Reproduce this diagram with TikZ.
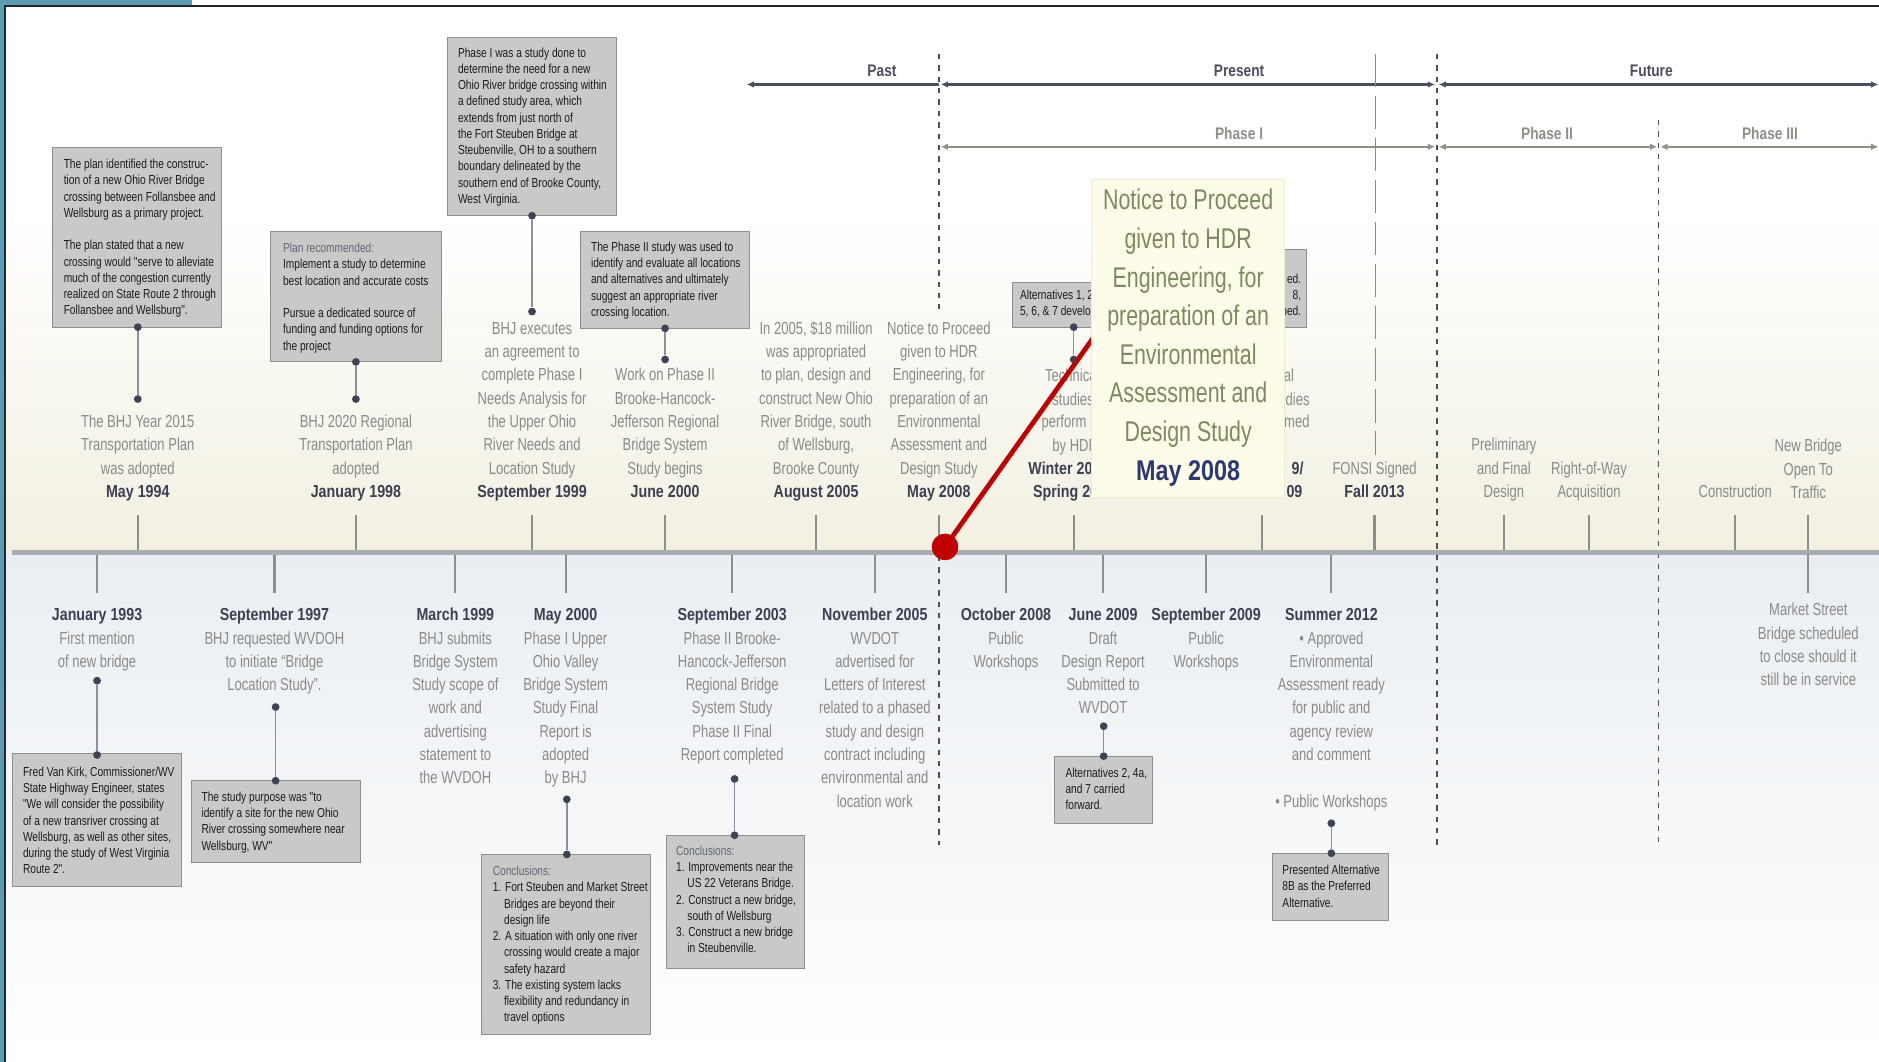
\documentclass[tikz,border=0pt]{standalone}
\usepackage{fontspec}
\setmainfont{Liberation Sans}[FakeStretch=0.75,BoldFeatures={FakeStretch=0.82}]
\newfontfamily\smallfam{Liberation Sans}[FakeStretch=0.78]
\usetikzlibrary{arrows.meta,fit}
\definecolor{frameteal}{HTML}{5B9CB2}
\definecolor{txtgray}{HTML}{8A8A8A}
\definecolor{datec}{HTML}{3C4052}
\definecolor{boxfill}{HTML}{C9C9C8}
\definecolor{boxborder}{HTML}{8F8F8F}
\definecolor{boxtxt}{HTML}{1C1C1C}
\definecolor{concl}{HTML}{5E6679}
\definecolor{dotc}{HTML}{3E4458}
\definecolor{connc}{HTML}{8C909A}
\definecolor{axisc}{HTML}{A8ACB4}
\definecolor{tickc}{HTML}{8C9089}
\definecolor{dashc}{HTML}{4F4F4F}
\definecolor{ldashc}{HTML}{8A8A8A}
\definecolor{hdrc}{HTML}{4A4F61}
\definecolor{phasec}{HTML}{8D9187}
\definecolor{beige}{HTML}{F2F0E1}
\definecolor{lblue}{HTML}{EAEEF2}
\definecolor{callfill}{HTML}{FDFCE9}
\definecolor{callborder}{HTML}{EEECD2}
\definecolor{callgreen}{HTML}{7B8B60}
\definecolor{callnavy}{HTML}{2D3A72}
\definecolor{redc}{HTML}{C00000}
\newcommand\mainsz{\fontsize{14.5}{19.45}\selectfont}
\newcommand\smallsz{\smallfam\fontsize{10.9}{13.55}\selectfont}
\newcommand\bigsz{\fontsize{23.8}{32.2}\selectfont}
\newcommand\lblsz{\fontsize{14}{16}\selectfont}
\newcommand\dt[1]{\textbf{\color{datec}#1}}
\newcommand\ind{\phantom{1.\ }}
\newcommand\topgrp[3]{\node[maintxt] (#1) at (#2,415) {\begin{tabular}[b]{@{}c@{}}#3\end{tabular}};}
\newcommand\botgrp[4]{\node[maintxt] (#1) at (#2,#3) {\begin{tabular}[t]{@{}c@{}}#4\end{tabular}};}
\newcommand\infobox[5]{\node[boxst, fit={(#2,#3)(#4,#5)}] (#1) {};}
\newcommand\boxtext[4]{\node[smalltxt] (#1) at (#2,#3) {\begin{tabular}[t]{@{}l@{}}#4\end{tabular}};}
\tikzset{htip/.tip={Latex[length=6pt,width=5.5pt]}}
\begin{document}
\begin{tikzpicture}[x=1pt,y=-1pt,
  maintxt/.style={inner sep=0pt, font=\mainsz, text=txtgray, anchor=base},
  smalltxt/.style={inner sep=0pt, font=\smallsz, text=boxtxt, anchor=base west},
  boxst/.style={draw=boxborder, fill=boxfill, line width=0.7pt, inner sep=0pt},
  dotst/.style={circle, fill=dotc, inner sep=0pt, minimum size=6.5pt},
  conn/.style={draw=connc, line width=1.2pt},
  tickst/.style={draw=tickc, line width=1.8pt},
  vdash/.style={draw=dashc, line width=1.2pt, dash pattern=on 4.5pt off 5pt},
  ldash/.style={draw=ldashc, line width=1.3pt, dash pattern=on 28pt off 7pt},
  hdrarrow/.style={draw=hdrc, line width=1.8pt},
  pharrow/.style={draw=phasec, line width=1.8pt},
  hdrlbl/.style={inner sep=0pt, anchor=base, font=\lblsz\bfseries, text=hdrc},
  phlbl/.style={inner sep=0pt, anchor=base, font=\lblsz\bfseries, text=phasec},
  frag/.style={inner sep=0pt, font=\mainsz, text=txtgray}
]
\useasboundingbox (0,0) rectangle (1568,886);
\fill[white] (0,0) rectangle (1568,886);
% background
\shade[top color=white, bottom color=beige] (5,180) rectangle (1568,461);
\shade[top color=lblue, bottom color=white] (5,461) rectangle (1568,880);
% frame
\fill[frameteal] (0,0) rectangle (160,4.2);
\fill[frameteal] (0,0) rectangle (3.6,886);
\draw[black!85, line width=1.6pt] (4.4,886) -- (4.4,5) -- (1568,5);

% header arrows
\coordinate (pastL) at (623,70.5);
\coordinate (pastR) at (783.5,70.5);
\coordinate (presL) at (785,70.5);
\coordinate (presR) at (1197.5,70.5);
\coordinate (futL) at (1200.5,70.5);
\coordinate (futR) at (1567.5,70.5);
\draw[hdrarrow, {htip}-] (pastL) -- (pastR);
\draw[hdrarrow, {htip}-{htip}] (presL) -- (presR);
\draw[hdrarrow, {htip}-{htip}] (futL) -- (futR);
\node[hdrlbl] (lpast) at (736,64) {Past};
\node[hdrlbl] (lpres) at (1034,64) {Present};
\node[hdrlbl] (lfut) at (1378,64) {Future};
\coordinate (ph1L) at (785,122.5);
\coordinate (ph1R) at (1197.5,122.5);
\coordinate (ph2L) at (1200.5,122.5);
\coordinate (ph2R) at (1383,122.5);
\coordinate (ph3L) at (1385.5,122.5);
\coordinate (ph3R) at (1567.5,122.5);
\draw[pharrow, {htip}-{htip}] (ph1L) -- (ph1R);
\draw[pharrow, {htip}-{htip}] (ph2L) -- (ph2R);
\draw[pharrow, {htip}-{htip}] (ph3L) -- (ph3R);
\node[phlbl] (lph1) at (1034,116) {Phase I};
\node[phlbl] (lph2) at (1291,116) {Phase II};
\node[phlbl] (lph3) at (1477,116) {Phase III};

% dashed separators
\draw[vdash] (783.5,45) -- (783.5,258);
\draw[vdash] (783.5,464) -- (783.5,705);
\draw[vdash] (1199,45) -- (1199,705);
\draw[vdash] (1384,100) -- (1384,705);
\draw[ldash] (1148,45) -- (1148,380);

% axis and ticks
\draw[draw=axisc, line width=3.6pt] (10,461) -- (1568,461);
\foreach \x in {115,297,444,555,681,783.5,896,1053,1147,1255,1326,1448,1509}
  \draw[tickst] (\x,430) -- (\x,459);
\foreach \x in {81,229,380,472,611,730,839.5,920.5,1006.5,1111,1509}
  \draw[tickst] (\x,463) -- (\x,495);

% top texts
\topgrp{t1}{115}{The BHJ Year 2015\\Transportation Plan\\was adopted\\\dt{May 1994}}
\topgrp{t2}{297}{BHJ 2020 Regional\\Transportation Plan\\adopted\\\dt{January 1998}}
\topgrp{t3}{444}{BHJ executes\\an agreement to\\complete Phase I\\Needs Analysis for\\the Upper Ohio\\River Needs and\\Location Study\\\dt{September 1999}}
\topgrp{t4}{555}{Work on Phase II\\Brooke-Hancock-\\Jefferson Regional\\Bridge System\\Study begins\\\dt{June 2000}}
\topgrp{t5}{681}{In 2005, \$18 million\\was appropriated\\to plan, design and\\construct New Ohio\\River Bridge, south\\of Wellsburg,\\Brooke County\\\dt{August 2005}}
\topgrp{t6}{783.5}{Notice to Proceed\\given to HDR\\Engineering, for\\preparation of an\\Environmental\\Assessment and\\Design Study\\\dt{May 2008}}
% partly hidden group (left of callout)
\node[frag, anchor=base west] (t7a) at (872,318) {Technica};
\node[frag, anchor=base west] (t7b) at (878,338) {studies};
\node[frag, anchor=base west] (t7c) at (869,357) {perform};
\node[frag, anchor=base west] (t7d) at (878,377) {by HDR};
\node[frag, anchor=base west, font=\mainsz\bfseries, text=datec] (t7e) at (858,396) {Winter 20};
\node[frag, anchor=base west, font=\mainsz\bfseries, text=datec] (t7f) at (862,415) {Spring 20};
% partly hidden group (right of callout)
\node[frag, anchor=base east] (t8a) at (1080,318) {al};
\node[frag, anchor=base east] (t8b) at (1093,338) {dies};
\node[frag, anchor=base east] (t8c) at (1093,357) {med};
\node[frag, anchor=base east, font=\mainsz\bfseries, text=datec] (t8e) at (1088,396) {9/};
\node[frag, anchor=base east, font=\mainsz\bfseries, text=datec] (t8f) at (1087,415) {09};
\topgrp{t9}{1147}{FONSI Signed\\\dt{Fall 2013}}
\topgrp{t10}{1255}{Preliminary\\and Final\\Design}
\topgrp{t11}{1326}{Right-of-Way\\Acquisition}
\topgrp{t12}{1448}{Construction}
\node[maintxt] (t13) at (1509,416) {\begin{tabular}[b]{@{}c@{}}New Bridge\\Open To\\Traffic\end{tabular}};

% bottom texts
\botgrp{b1}{81}{518}{\dt{January 1993}\\First mention\\of new bridge}
\botgrp{b2}{229}{518}{\dt{September 1997}\\BHJ requested WVDOH\\to initiate “Bridge\\Location Study”.}
\botgrp{b3}{380}{518}{\dt{March 1999}\\BHJ submits\\Bridge System\\Study scope of\\work and\\advertising\\statement to\\the WVDOH}
\botgrp{b4}{472}{518}{\dt{May 2000}\\Phase I Upper\\Ohio Valley\\Bridge System\\Study Final\\Report is\\adopted\\by BHJ}
\botgrp{b5}{611}{518}{\dt{September 2003}\\Phase II Brooke-\\Hancock-Jefferson\\Regional Bridge\\System Study\\Phase II Final\\Report completed}
\botgrp{b6}{730}{518}{\dt{November 2005}\\WVDOT\\advertised for\\Letters of Interest\\related to a phased\\study and design\\contract including\\environmental and\\location work}
\botgrp{b7}{839.5}{518}{\dt{October 2008}\\Public\\Workshops}
\botgrp{b8}{920.5}{518}{\dt{June 2009}\\Draft\\Design Report\\Submitted to\\WVDOT}
\botgrp{b9}{1006.5}{518}{\dt{September 2009}\\Public\\Workshops}
\botgrp{b10}{1111}{518}{\dt{Summer 2012}\\• Approved\\Environmental\\Assessment ready\\for public and\\agency review\\and comment\\ \\• Public Workshops}
\botgrp{b11}{1509}{514}{Market Street\\Bridge scheduled\\to close should it\\still be in service}

% boxes (top)
\infobox{bA}{43.7}{123}{185}{273}
\boxtext{xA}{53}{140.8}{The plan identified the construc-\\tion of a new Ohio River Bridge\\crossing between Follansbee and\\Wellsburg as a primary project.\\ \\The plan stated that a new\\crossing would "serve to alleviate\\much of the congestion currently\\realized on State Route 2 through\\Follansbee and Wellsburg".}
\infobox{bB}{226}{193}{368}{302}
\boxtext{xB}{236}{210.8}{{\color{concl}Plan recommended:}\\Implement a study to determine\\best location and accurate costs\\ \\Pursue a dedicated source of\\funding and funding options for\\the project}
\infobox{bC}{373}{31}{514}{180}
\boxtext{xC}{382}{47.8}{Phase I was a study done to\\determine the need for a new\\Ohio River bridge crossing within\\a defined study area, which\\extends from just north of\\the Fort Steuben Bridge at\\Steubenville, OH to a southern\\boundary delineated by the\\southern end of Brooke County,\\West Virginia.}
\infobox{bD}{484}{193}{625}{274}
\boxtext{xD}{493}{209.8}{The Phase II study was used to\\identify and evaluate all locations\\and alternatives and ultimately\\suggest an appropriate river\\crossing location.}
\infobox{bK}{845}{236}{946}{273}
\boxtext{xK}{851}{250}{Alternatives 1, 2\\5, 6, \& 7 develop}
\infobox{bL}{985}{208}{1090}{273}
\node[smalltxt, anchor=base east] (xL) at (1086,236.5) {\begin{tabular}[t]{@{}r@{}}ed.\\8,\\ped.\end{tabular}};

% boxes (bottom)
\infobox{bE}{10.4}{629}{151}{740}
\boxtext{xE}{19}{647.8}{Fred Van Kirk, Commissioner/WV\\State Highway Engineer, states\\"We will consider the possibility\\of a new transriver crossing at\\Wellsburg, as well as other sites,\\during the study of West Virginia\\Route 2".}
\infobox{bF}{159.5}{651.5}{300.4}{720}
\boxtext{xF}{168}{668.8}{The study purpose was "to\\identify a site for the new Ohio\\River crossing somewhere near\\Wellsburg, WV"}
\infobox{bG}{402}{713}{543}{863}
\boxtext{xG}{411}{730.8}{{\color{concl}Conclusions:}\\1. Fort Steuben and Market Street\\\ind Bridges are beyond their\\\ind design life\\2. A situation with only one river\\\ind crossing would create a major\\\ind safety hazard\\3. The existing system lacks\\\ind flexibility and redundancy in\\\ind travel options}
\infobox{bH}{556}{697}{671}{808}
\boxtext{xH}{564}{713.8}{{\color{concl}Conclusions:}\\1. Improvements near the\\\ind US 22 Veterans Bridge.\\2. Construct a new bridge,\\\ind south of Wellsburg\\3. Construct a new bridge\\\ind in Steubenville.}
\infobox{bI}{880}{631}{962}{687}
\boxtext{xI}{889}{648.8}{Alternatives 2, 4a,\\and 7 carried\\forward.}
\infobox{bJ}{1062}{712}{1159}{768}
\boxtext{xJ}{1070}{729.8}{Presented Alternative\\8B as the Preferred\\Alternative.}

% dots and connectors
\node[dotst] (dA1) at (115,273) {};
\node[dotst] (dA2) at (115,333) {};
\node[dotst] (dB1) at (297,302) {};
\node[dotst] (dB2) at (297,333) {};
\node[dotst] (dC1) at (444,180) {};
\node[dotst] (dC2) at (444,260) {};
\node[dotst] (dD1) at (555,274) {};
\node[dotst] (dD2) at (555,300) {};
\node[dotst] (dK1) at (896,273) {};
\node[dotst] (dK2) at (896,300) {};
\node[dotst] (dE1) at (81,568) {};
\node[dotst] (dE2) at (81,630) {};
\node[dotst] (dF1) at (230,590) {};
\node[dotst] (dF2) at (230,651.5) {};
\node[dotst] (dG1) at (473,667) {};
\node[dotst] (dG2) at (473,713) {};
\node[dotst] (dH1) at (613,650) {};
\node[dotst] (dH2) at (613,697) {};
\node[dotst] (dI1) at (921,606) {};
\node[dotst] (dI2) at (921,631) {};
\node[dotst] (dJ1) at (1111,687) {};
\node[dotst] (dJ2) at (1111,712) {};
\foreach \a/\b in {dA1/dA2,dB1/dB2,dC1/dC2,dD1/dD2,dK1/dK2,dE1/dE2,dF1/dF2,dG1/dG2,dH1/dH2,dI1/dI2,dJ1/dJ2}
  \draw[conn] (\a) -- (\b);

% red pointer and callout
\node[circle, fill=redc, inner sep=0pt, minimum size=22pt] (reddot) at (788.6,456.4) {};
\coordinate (redend) at (925,264);
\draw[redc, line width=4pt] (reddot.center) -- (redend);
\node[fill=callfill, draw=callborder, line width=0.5pt, inner sep=0pt, fit={(911,150)(1072,415)}] (callout) {};
\node[inner sep=0pt, anchor=base, font=\bigsz, text=callgreen] (callt) at (991.5,400.6) {\begin{tabular}[b]{@{}c@{}}Notice to Proceed\\given to HDR\\Engineering, for\\preparation of an\\Environmental\\Assessment and\\Design Study\\\textbf{\color{callnavy}May 2008}\end{tabular}};
\node[circle, fill=redc, inner sep=0pt, minimum size=22pt] (reddot2) at (reddot.center) {};
\end{tikzpicture}
\end{document}
